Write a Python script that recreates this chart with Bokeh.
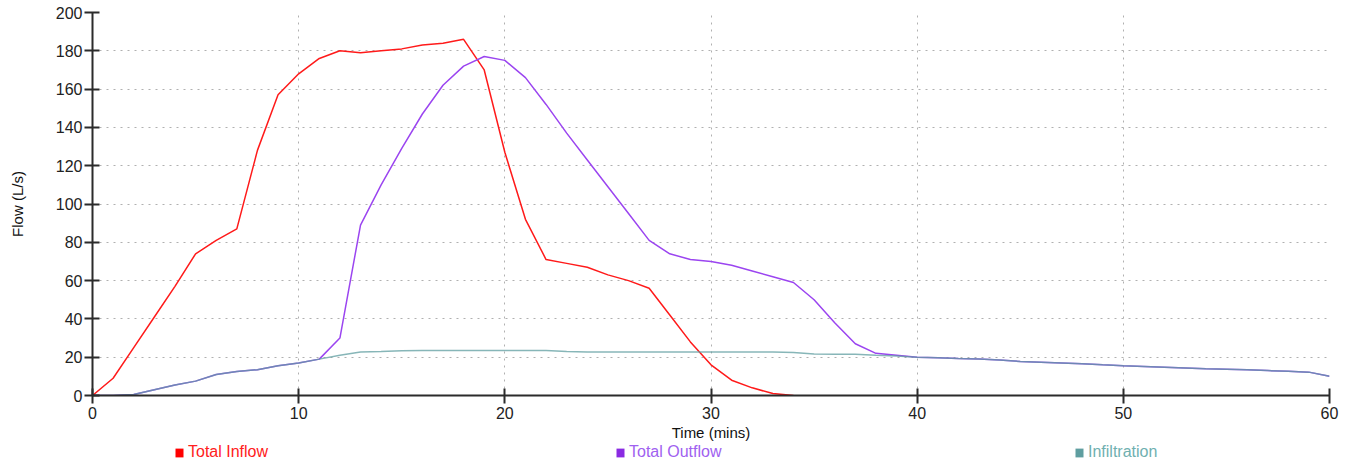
from bokeh.plotting import figure
from bokeh.layouts import column
from bokeh.models import Legend, LegendItem, Range1d, FixedTicker
from bokeh.embed import file_html
from bokeh.resources import INLINE

time_inflow = list(range(0, 35))
total_inflow = [0, 9, 25, 41, 57, 74, 81, 87, 128, 157,
                168, 176, 180, 179, 180, 181, 183, 184, 186, 170,
                127, 92, 71, 69, 67, 63, 60, 56, 42, 28,
                16, 8, 4, 1, 0]

time = list(range(0, 61))
total_outflow = [0, 0, 0.5, 3, 5.5, 7.5, 11, 12.5, 13.5, 15.5,
                 17, 19, 30, 89, 110, 129, 147, 162, 172, 177,
                 175, 166, 152, 137, 123, 109, 95, 81, 74, 71,
                 70, 68, 65, 62, 59, 50, 38, 27, 22, 21,
                 20, 19.7, 19.3, 19, 18.5, 17.8, 17.4, 17, 16.6, 16,
                 15.5, 15.2, 14.8, 14.4, 14, 13.7, 13.4, 13, 12.6, 12.2, 10]
infiltration = [0, 0, 0.5, 3, 5.5, 7.5, 11, 12.5, 13.5, 15.5,
                17, 19, 21, 22.7, 23, 23.4, 23.5, 23.5, 23.5, 23.5,
                23.5, 23.5, 23.5, 23, 22.7, 22.7, 22.7, 22.7, 22.7, 22.7,
                22.7, 22.7, 22.7, 22.7, 22.5, 21.7, 21.6, 21.5, 21, 20.6,
                20, 19.7, 19.3, 19, 18.5, 17.8, 17.4, 17, 16.6, 16,
                15.5, 15.2, 14.8, 14.4, 14, 13.7, 13.4, 13, 12.6, 12.2, 10]

series_names = ["Total Inflow", "Total Outflow", "Infiltration"]

x_ticks = [0, 10, 20, 30, 40, 50, 60]
y_ticks = [0, 20, 40, 60, 80, 100, 120, 140, 160, 180, 200]

RED = "#ff1a1a"
PURPLE = "#9b45f0"
TEAL = "#5f9ea0"
FONT = "Liberation Sans"

p = figure(width=1353, height=443, output_backend="svg", toolbar_location=None,
           x_range=Range1d(0, 60), y_range=Range1d(0, 200),
           min_border_left=92, min_border_right=24, min_border_top=12, min_border_bottom=46)
p.outline_line_color = None
p.background_fill_color = "white"
p.border_fill_color = "white"

for ax, ticks in ((p.xaxis, x_ticks), (p.yaxis, y_ticks)):
    ax.ticker = FixedTicker(ticks=ticks)
    ax.axis_line_color = "#2b2b2b"
    ax.axis_line_width = 2
    ax.major_tick_line_color = "#2b2b2b"
    ax.major_tick_line_width = 2
    ax.major_tick_in = 7
    ax.major_tick_out = 8
    ax.minor_tick_line_color = None
    ax.major_label_text_font = FONT
    ax.major_label_text_font_size = "16px"
    ax.major_label_text_color = "#222222"
    ax.axis_label_text_font = FONT
    ax.axis_label_text_font_size = "15px"
    ax.axis_label_text_font_style = "normal"
    ax.axis_label_text_color = "#111111"

p.xaxis.axis_label = "Time (mins)"
p.yaxis.axis_label = "Flow (L/s)"
p.yaxis.major_label_standoff = 2
p.yaxis.axis_label_standoff = 27
p.xaxis.major_label_standoff = 3
p.xaxis.axis_label_standoff = 2

p.xgrid.ticker = FixedTicker(ticks=x_ticks)
p.ygrid.ticker = FixedTicker(ticks=y_ticks)
for g in (p.xgrid, p.ygrid):
    g.grid_line_color = "#b0b0b0"
    g.grid_line_dash = "2 5"
    g.grid_line_width = 1

p.line(time_inflow, total_inflow, line_color=RED, line_width=1.5)
p.line(time, total_outflow, line_color=PURPLE, line_width=1.5)
p.line(time, infiltration, line_color=TEAL, line_width=1.5, line_alpha=0.75)

# legend strip below the chart (its frame is aligned with the chart frame)
lf = figure(width=1353, height=22, output_backend="svg", toolbar_location=None,
            x_range=Range1d(0, 1), y_range=Range1d(0, 1),
            min_border_left=0, min_border_right=0, min_border_top=0, min_border_bottom=0)
lf.axis.visible = False
lf.grid.visible = False
lf.outline_line_color = None

# zero-size swatch renderers, used only to give the legend entries their square key
swatch = dict(left=[0], right=[0], top=[0], bottom=[0], line_color=None)
m_in = lf.quad(fill_color="#ff0000", **swatch)
m_out = lf.quad(fill_color="#8a2be2", **swatch)
m_inf = lf.quad(fill_color="#5f9ea0", **swatch)

for label, rend, color, xloc in ((series_names[0], m_in, "#ff2020", 82),
                                 (series_names[1], m_out, "#a061f0", 523),
                                 (series_names[2], m_inf, "#6fb0b0", 982)):
    lg = Legend(items=[LegendItem(label=label, renderers=[rend])],
                location=(xloc, 4), orientation="horizontal",
                glyph_width=10, glyph_height=11, label_standoff=4,
                padding=0, margin=0, border_line_color=None,
                background_fill_alpha=0, label_text_font=FONT,
                label_text_font_size="16px", label_text_color=color,
                label_height=11)
    lf.add_layout(lg)

layout = column(p, lf, spacing=0)
open("out.html", "w").write(file_html(layout, INLINE))
